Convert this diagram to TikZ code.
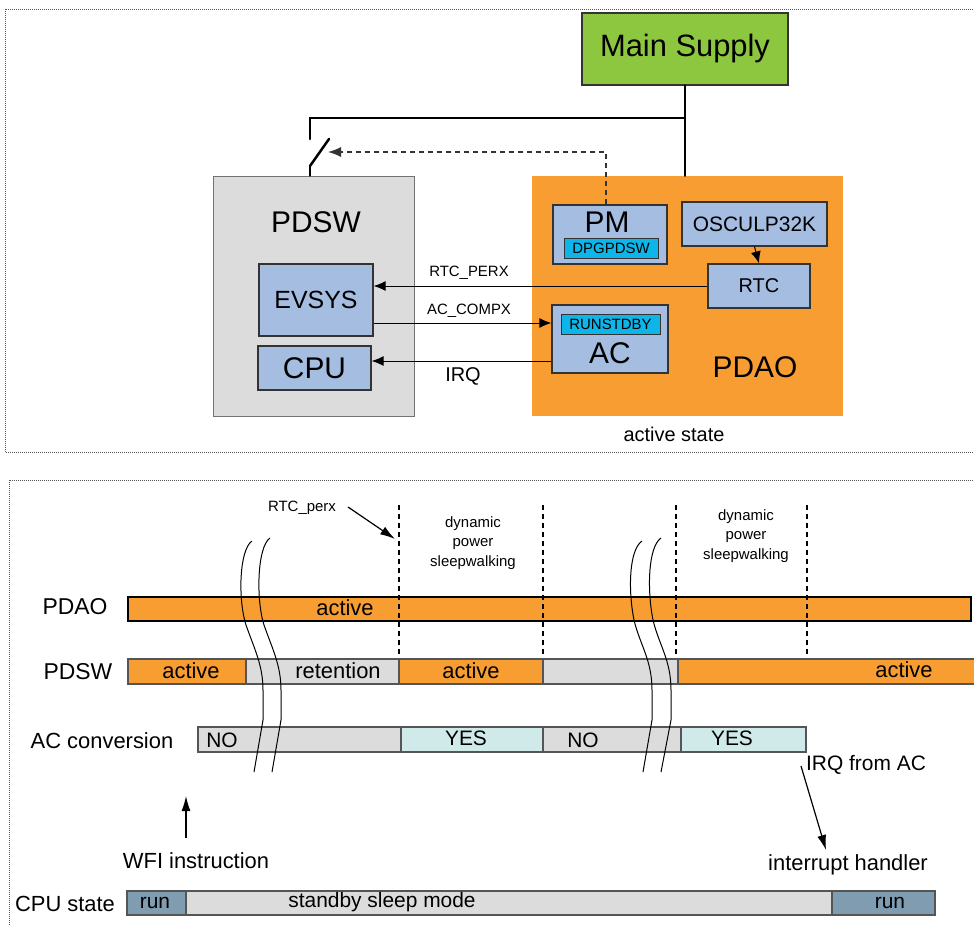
\documentclass[tikz,border=0pt]{standalone}
\usepackage{fontspec}
\setmainfont{Liberation Sans}
\usetikzlibrary{arrows.meta}
\definecolor{orng}{HTML}{F89D31}
\definecolor{lgray}{HTML}{DCDCDC}
\definecolor{boxblue}{HTML}{A5BDE1}
\definecolor{cyanbox}{HTML}{0EB5E8}
\definecolor{supgreen}{HTML}{8DC63F}
\definecolor{yescol}{HTML}{D0EAE9}
\definecolor{runcol}{HTML}{7F9CB0}
\definecolor{frame}{HTML}{555555}
\begin{document}
\begin{tikzpicture}[x=1bp,y=-1bp,
  blk/.style={draw=black!80, line width=1.2bp, fill=boxblue, inner sep=0pt},
  cyanb/.style={draw=black!80, line width=1bp, fill=cyanbox, inner sep=0pt},
  txt/.style={inner sep=0pt},
  fsz/.style={font=\fontsize{#1}{#1}\selectfont},
  sz/.style 2 args={minimum width=#1bp, minimum height=#2bp},
  panel/.style={draw=frame, line width=1bp, dash pattern=on 1bp off 1bp},
  power/.style={line width=2.5bp, line cap=round},
  sig/.style={line width=1bp, -{Latex[length=12bp,width=10bp]}},
  tarr/.style={line width=1.2bp, -{Latex[length=15bp,width=9bp]}},
  vdot/.style={line width=2.5bp, dash pattern=on 5bp off 4bp},
  seg/.style={draw=frame, line width=1.3bp},
  wave/.style={line width=1bp}
]
\clip (0,0) rectangle (974,926);
\fill[white] (0,0) rectangle (974,926);

% ---------- top panel ----------
\draw[panel] (5,9) rectangle (1000,452);

\node[draw=black!80, line width=1.2bp, fill=supgreen, sz={206}{72}, fsz=31] (main) at (685,49) {Main Supply};

\node[draw=black!55, line width=1bp, fill=lgray, sz={201}{240}] (pdsw) at (313.5,296) {};
\node[txt, fsz=30] (pdswl) at (316,222) {PDSW};

\node[fill=orng, sz={311}{240}, inner sep=0pt] (pdao) at (687.5,296) {};
\node[txt, fsz=30] (pdaol) at (755,367) {PDAO};

\node[blk, sz={114}{59}] (pm) at (610,234.5) {};
\node[txt, fsz=30] (pml) at (607,222) {PM};
\node[cyanb, sz={94}{20}, fsz=15] (dpg) at (611,248) {DPGPDSW};

\node[blk, sz={145}{44}, fsz=21] (osc) at (754.5,224) {OSCULP32K};
\node[blk, sz={102}{44}, fsz=20] (rtc) at (759,286) {RTC};

\node[blk, sz={114}{72}, fsz=25] (evsys) at (316,300) {EVSYS};
\node[blk, sz={113}{44}, fsz=30] (cpu) at (314.5,368) {CPU};

\node[blk, sz={116}{68}] (ac) at (610,339) {};
\node[txt, fsz=30] (acl) at (610,353) {AC};
\node[cyanb, sz={99}{20}, fsz=15] (runs) at (610.5,324) {RUNSTDBY};

% power lines and switch
\coordinate (jn) at (main.south |- 0,118);
\coordinate (swtop) at (310,139);
\coordinate (swbot) at (310,166);
\coordinate (blade) at (329,139);
\draw[power] (main.south) -- (main.south |- pdao.north);
\draw[power] (jn) -- (310,118) -- (swtop);
\draw[power] (swbot) -- (blade);
\draw[power] (swbot) -- (swbot |- pdsw.north);

% dashed control
\coordinate (swctl) at (328,152);
\draw[line width=1.3bp, dash pattern=on 5bp off 4bp, draw=black!80, -{Latex[length=13bp,width=10bp]}]
  ([xshift=-4bp]pm.north) |- (swctl);

% signal arrows
\draw[sig] (osc.south) -- (rtc.north);
\draw[sig] (rtc.west) -- (rtc.west -| evsys.east);
\draw[sig] (evsys.east |- 0,323) -- (ac.west |- 0,323);
\draw[sig] (ac.west |- 0,361) -- (cpu.east |- 0,361);

\node[txt, fsz=15] (lrtc) at (469,273) {RTC\_PERX};
\node[txt, fsz=15] (lacc) at (469,311) {AC\_COMPX};
\node[txt, fsz=20] (lirq) at (463,376) {IRQ};
\node[txt, fsz=20] (lact) at (674,434) {active state};

% ---------- bottom panel ----------
\draw[panel] (9,480) rectangle (1000,950);

% PDAO bar
\draw[fill=orng, draw=black, line width=2bp] (128,597) rectangle (971,621);
% PDSW bar
\draw[seg, fill=orng] (128,659) rectangle (246,684);
\draw[seg, fill=lgray] (246,659) rectangle (399,684);
\draw[seg, fill=orng] (399,659) rectangle (543,684);
\draw[seg, fill=lgray] (543,659) rectangle (678,684);
\draw[seg, fill=orng] (678,659) rectangle (990,684);
% AC conversion bar
\draw[seg, fill=lgray] (198,727) rectangle (401,752);
\draw[seg, fill=yescol] (401,727) rectangle (543,752);
\draw[seg, fill=lgray] (543,727) rectangle (681,752);
\draw[seg, fill=yescol] (681,727) rectangle (806,752);
% CPU bar
\draw[seg, fill=runcol] (127,891) rectangle (186,915);
\draw[seg, fill=lgray] (186,891) rectangle (832,915);
\draw[seg, fill=runcol] (832,891) rectangle (935,915);

% dotted time markers
\foreach \xx in {399,543,676,807} \draw[vdot] (\xx,505) -- (\xx,655);

% break marks
\draw[wave] (252,541) .. controls (239,550) and (238,600) .. (246,625) .. controls (254,648) and (263,665) .. (263,690) -- (263,720) -- (254,772);
\draw[wave] (270,538) .. controls (257,547) and (256,600) .. (264,625) .. controls (272,648) and (281,665) .. (281,690) -- (281,720) -- (272,772);
\draw[wave] (642,541) .. controls (629,550) and (628,590) .. (634,620) .. controls (640,645) and (652,660) .. (652,690) -- (652,720) -- (643,772);
\draw[wave] (661,538) .. controls (648,547) and (647,590) .. (653,620) .. controls (659,645) and (671,660) .. (671,690) -- (671,720) -- (661,772);

% row labels
\node[txt, fsz=23] (rpdao) at (75,607) {PDAO};
\node[txt, fsz=23] (rpdsw) at (78,672) {PDSW};
\node[txt, fsz=22] (racc) at (102,741) {AC conversion};
\node[txt, fsz=22] (rcpu) at (65,904) {CPU state};

% bar texts
\node[txt, fsz=22] (t1) at (345,608) {active};
\node[txt, fsz=22] (t2) at (191,671) {active};
\node[txt, fsz=22] (t3) at (338,671) {retention};
\node[txt, fsz=22] (t4) at (471,671) {active};
\node[txt, fsz=22] (t5) at (904,670) {active};
\node[txt, fsz=21] (t6) at (222,740) {NO};
\node[txt, fsz=21] (t7) at (466,738) {YES};
\node[txt, fsz=21] (t8) at (583,740) {NO};
\node[txt, fsz=21] (t9) at (732,738) {YES};
\node[txt, fsz=21] (t10) at (155,903) {run};
\node[txt, fsz=21] (t11) at (382,902) {standby sleep mode};
\node[txt, fsz=21] (t12) at (890,903) {run};

% annotations
\node[txt, fsz=15] (rperx) at (302,508) {RTC\_perx};
\coordinate (rpa) at (348,507);
\coordinate (rpb) at (395,539);
\draw[tarr] (rpa) -- (rpb);

\node[txt, fsz=15, align=center, font=\fontsize{15}{19.5}\selectfont] (dyn1) at (473,543) {dynamic\\power\\sleepwalking};
\node[txt, fsz=15, align=center, font=\fontsize{15}{19.5}\selectfont] (dyn2) at (746,536) {dynamic\\power\\sleepwalking};

\node[txt, fsz=22] (wfi) at (196,861) {WFI instruction};
\coordinate (wfia) at (186,838);
\coordinate (wfib) at (186,796);
\draw[tarr] (wfia) -- (wfib);

\node[txt, fsz=21] (irqac) at (866,765) {IRQ from AC};
\node[txt, fsz=22] (ih) at (848,865) {interrupt handler};
\coordinate (ira) at (801,766);
\coordinate (irb) at (826,850);
\draw[tarr] (ira) -- (irb);
\end{tikzpicture}
\end{document}
